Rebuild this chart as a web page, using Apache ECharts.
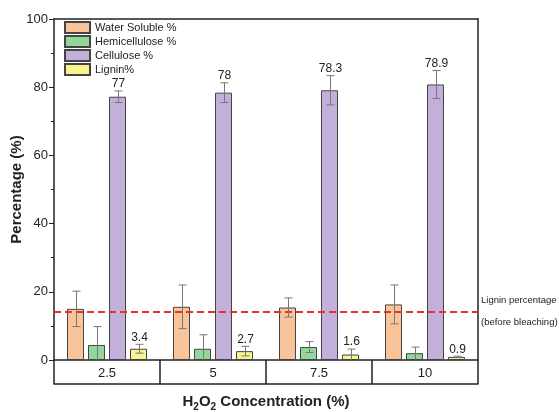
<!DOCTYPE html>
<html>
<head>
<meta charset="utf-8">
<script src="https://cdn.jsdelivr.net/npm/echarts@6/dist/echarts.min.js"></script>
<style>
  html, body { margin: 0; padding: 0; background: #fff; }
  #chart { width: 559px; height: 412px; }
</style>
</head>
<body>
<div id="chart"></div>
<script>
// values (bar height, +/- error)
const categories = ['2.5', '5', '7.5', '10']
const seriesNames = ['Water Soluble %', 'Hemicellulose %', 'Cellulose %', 'Lignin%']
const waterSoluble = [15.0, 15.6, 15.4, 16.3]
const waterErr = [5.2, 6.4, 2.8, 5.7]
const hemicellulose = [4.4, 3.3, 3.8, 2.0]
const hemiErr = [5.4, 4.1, 1.6, 1.8]
const cellulose = [77.2, 78.4, 79.1, 80.8]
const celluloseErr = [1.7, 2.9, 4.3, 4.1]
const lignin = [3.3, 2.6, 1.6, 0.9]
const ligninErr = [1.3, 1.4, 1.6, 0.2]
const celluloseLabels = ['77', '78', '78.3', '78.9']
const ligninLabels = ['3.4', '2.7', '1.6', '0.9']
const ligninBefore = 14.2
const yTicks = [0, 20, 40, 60, 80, 100]

const colors = ['#FAC49A', '#92D69A', '#C2B0DA', '#FBF48E']
const values = [waterSoluble, hemicellulose, cellulose, lignin]
const errors = [waterErr, hemiErr, celluloseErr, ligninErr]
const labels = [null, null, celluloseLabels, ligninLabels]

const BAR_W = 17
const BAR_GAP = 4

const errData = []
values.forEach((arr, s) => {
  arr.forEach((v, c) => errData.push([c, s, v, errors[s][c]]))
})

const chart = echarts.init(document.getElementById('chart'))

const axisColor = '#222'
const font = 'Liberation Sans, Arial, sans-serif'

const barSeries = values.map((arr, s) => ({
  name: seriesNames[s],
  type: 'bar',
  data: arr,
  barWidth: BAR_W,
  barGap: (BAR_GAP / BAR_W * 100) + '%',
  itemStyle: { color: colors[s], borderColor: '#444', borderWidth: 1 },
  emphasis: { disabled: true },
  markLine: s === 0 ? {
    silent: true,
    symbol: 'none',
    lineStyle: { color: '#E8302C', type: [7, 4], width: 2 },
    label: {
      position: 'end',
      distance: 3,
      formatter: 'Lignin percentage\n(before bleaching)',
      fontSize: 9.5,
      lineHeight: 22,
      color: '#222',
      fontFamily: font,
      align: 'left'
    },
    data: [{ yAxis: ligninBefore }]
  } : undefined
}))

// error bars + value labels, placed next to each bar in its category
const errSeries = {
  type: 'custom',
  z: 5,
  silent: true,
  encode: { x: 0, y: 2 },
  data: errData,
  renderItem: (params, api) => {
    const c = api.value(0)
    const s = api.value(1)
    const v = api.value(2)
    const e = api.value(3)
    const base = api.coord([c, v])
    const x = Math.round(base[0] + (s - 1.5) * (BAR_W + BAR_GAP)) + 0.5
    const yTop = api.coord([c, v + e])[1]
    const lo = v - e
    const yBot = api.coord([c, Math.max(0, lo)])[1]
    const st = { stroke: '#777', lineWidth: 1 }
    const children = [
      { type: 'line', shape: { x1: x, y1: yTop, x2: x, y2: yBot }, style: st },
      { type: 'line', shape: { x1: x - 4, y1: yTop, x2: x + 4, y2: yTop }, style: st }
    ]
    if (lo > 0.3) {
      children.push({ type: 'line', shape: { x1: x - 4, y1: yBot, x2: x + 4, y2: yBot }, style: st })
    }
    const lbl = labels[s] && labels[s][c]
    if (lbl) {
      children.push({
        type: 'text',
        style: {
          text: lbl, x: x, y: yTop - 1,
          align: 'center', verticalAlign: 'bottom',
          fontSize: 12, fill: '#222', fontFamily: font
        }
      })
    }
    return { type: 'group', children }
  }
}

chart.setOption({
  animation: false,
  textStyle: { fontFamily: font },
  legend: {
    orient: 'vertical',
    left: 64,
    top: 21,
    padding: 0,
    icon: 'rect',
    itemWidth: 25,
    itemHeight: 11,
    itemGap: 1,
    data: seriesNames,
    textStyle: { fontSize: 11, color: '#222' }
  },
  grid: { left: 54, right: 81, top: 19, bottom: 52, outerBoundsMode: 'none', containLabel: false },
  xAxis: [{
    type: 'category',
    data: categories,
    axisLine: { lineStyle: { color: axisColor, width: 1.5 } },
    axisTick: { show: true, interval: 0, length: 24, lineStyle: { color: axisColor, width: 1.5 } },
    axisLabel: { fontSize: 13, color: axisColor, margin: 7 },
    name: 'H{s|2}O{s|2} Concentration (%)',
    nameLocation: 'middle',
    nameGap: 32,
    nameMoveOverlap: false,
    nameTextStyle: {
      fontSize: 15, fontWeight: 'bold', color: axisColor, lineHeight: 20,
      rich: { s: { fontSize: 10, fontWeight: 'bold', color: axisColor, verticalAlign: 'bottom', lineHeight: 14, padding: [8, 0, 0, 0] } }
    }
  }, {
    type: 'category',
    data: categories,
    position: 'bottom',
    offset: 24,
    axisLine: { show: true, onZero: false, lineStyle: { color: axisColor, width: 1.5 } },
    axisTick: { show: false },
    axisLabel: { show: false }
  }, {
    type: 'category',
    data: categories,
    position: 'top',
    axisLine: { show: true, onZero: false, lineStyle: { color: axisColor, width: 1.5 } },
    axisTick: { show: false },
    axisLabel: { show: false }
  }],
  yAxis: [{
    type: 'value',
    min: yTicks[0],
    max: yTicks[yTicks.length - 1],
    interval: 20,
    axisLine: { show: true, lineStyle: { color: axisColor, width: 1.5 } },
    axisTick: { show: true, length: 5, lineStyle: { color: axisColor } },
    minorTick: { show: true, splitNumber: 2, length: 3, lineStyle: { color: axisColor } },
    splitLine: { show: false },
    axisLabel: { fontSize: 13, color: axisColor, margin: 6 },
    name: 'Percentage (%)',
    nameLocation: 'middle',
    nameGap: 30,
    nameMoveOverlap: false,
    nameTextStyle: { fontSize: 15, fontWeight: 'bold', color: axisColor }
  }, {
    type: 'value',
    position: 'right',
    min: 0,
    max: 100,
    axisLine: { show: true, onZero: false, lineStyle: { color: axisColor, width: 1.5 } },
    axisTick: { show: false },
    axisLabel: { show: false },
    splitLine: { show: false }
  }],
  series: [...barSeries, errSeries]
})
</script>
</body>
</html>
